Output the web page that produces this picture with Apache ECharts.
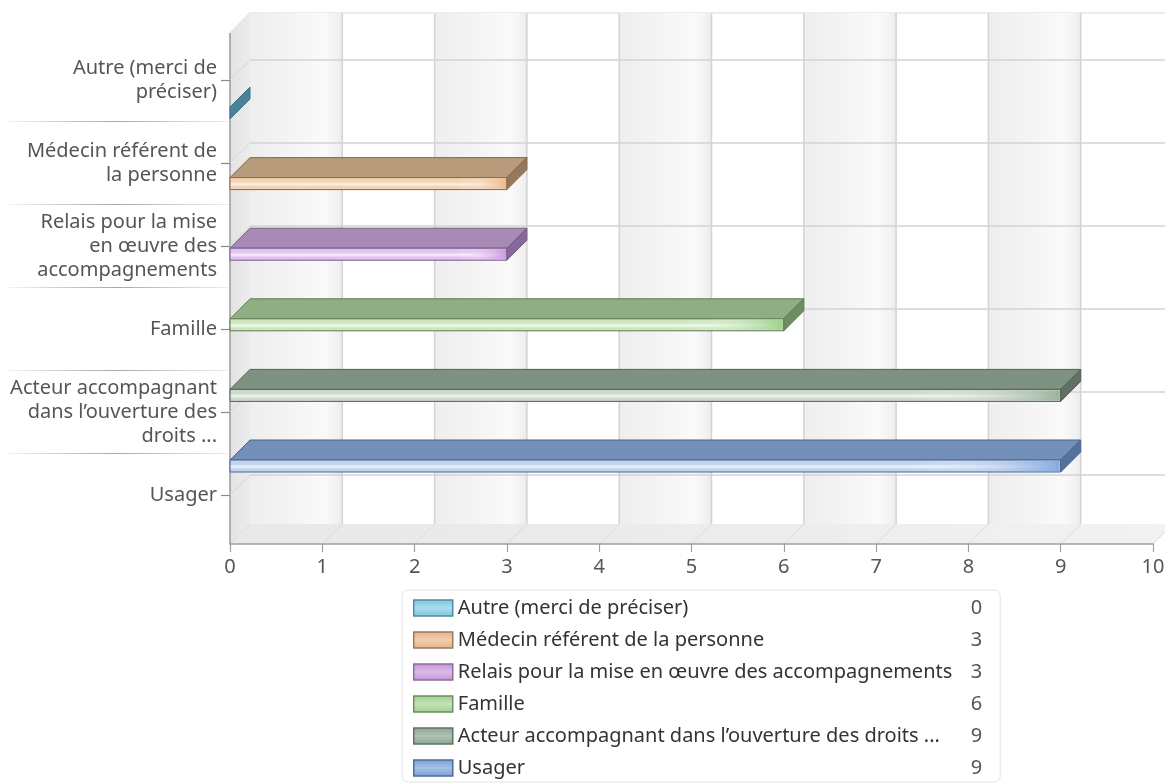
<!DOCTYPE html>
<html>
<head>
<meta charset="utf-8">
<script src="https://cdn.jsdelivr.net/npm/echarts@6/dist/echarts.min.js"></script>
<style>html,body{margin:0;padding:0;background:#fff}#c{width:1165px;height:784px}</style>
</head>
<body>
<div id="c"></div>
<script>
// ---- data ----
const categories = [
  'Autre (merci de préciser)',
  'Médecin référent de la personne',
  'Relais pour la mise en œuvre des accompagnements',
  'Famille',
  'Acteur accompagnant dans l’ouverture des droits ...',
  'Usager'
];
const axisLabels = [
  'Autre (merci de\npréciser)',
  'Médecin référent de\nla personne',
  'Relais pour la mise\nen œuvre des\naccompagnements',
  'Famille',
  'Acteur accompagnant\ndans l’ouverture des\ndroits ...',
  'Usager'
];
const values = [0, 3, 3, 6, 9, 9];
const xTicks = [0, 1, 2, 3, 4, 5, 6, 7, 8, 9, 10];
const xMin = 0, xMax = 10, xStep = 1;

// ---- styles ----
const FONT = "'Noto Sans', sans-serif";
const D = 20; // 3D depth offset in px
const palette = [
  {top:'#5b97ad', side:'#4a8398', border:'#3f7286', f0:'#b3ddef', f1:'#e6f5fb', f2:'#7fc6e2', lg:'#7fc3dd', lm:'#a9dcee', lb:'#4d8da3'},
  {top:'#b89b7b', side:'#95795b', border:'#86694c', f0:'#f3d2b0', f1:'#fcf0e4', f2:'#ebb98a', lg:'#e2b085', lm:'#f1cfae', lb:'#9b7c5e'},
  {top:'#a78bb6', side:'#86699a', border:'#765c86', f0:'#e0c2ef', f1:'#f7eefc', f2:'#cc98e2', lg:'#c291d6', lm:'#dcbbea', lb:'#8d6e9c'},
  {top:'#8fae81', side:'#6e8d62', border:'#5e7b53', f0:'#cbe6bf', f1:'#f1f9ee', f2:'#a0d28e', lg:'#9ecd8f', lm:'#c3e3b8', lb:'#6c8f60'},
  {top:'#7f9181', side:'#5f7162', border:'#506253', f0:'#ccd9cd', f1:'#f1f5f1', f2:'#9cb29e', lg:'#8aa391', lm:'#afc2b3', lb:'#5f7463'},
  {top:'#7290b9', side:'#56719b', border:'#4b658d', f0:'#bed3f0', f1:'#eef4fc', f2:'#86abe0', lg:'#779dd4', lm:'#a4c0e8', lb:'#4e6b96'}
];
const lin = (x, y, x2, y2, stops) => new echarts.graphic.LinearGradient(x, y, x2, y2, stops.map(c => ({offset: c[0], color: c[1]})));

function wallRender(params, api) {
  const k = api.value(0);
  const cs = params.coordSys;
  const top = cs.y, bottom = cs.y + cs.height;
  const xl = api.coord([xMin, 0])[0], xr = api.coord([xMax, 0])[0];
  const x = api.coord([k, 0])[0];
  const ch = [];
  if (k === xMin) {
    ch.push({type:'polygon', shape:{points:[[xl,top],[xl+D,top-D],[xl+D,bottom-D],[xl,bottom]]},
      style:{fill: lin(0,0,1,0,[[0,'#e3e3e3'],[1,'#ececec']])}});
    ch.push({type:'polygon', shape:{points:[[xl,bottom],[xl+D,bottom-D],[xr+D,bottom-D],[xr,bottom]]},
      style:{fill: lin(0,0,1,0,[[0,'#e8e8e8'],[0.6,'#ededed'],[1,'#f2f2f2']])}});
    ch.push({type:'polyline', shape:{points:[[xl,top],[xl+D,top-D],[xr+D,top-D]]},
      style:{stroke:'#e6e6e6', lineWidth:1.5, fill:null}});
  }
  if (k < xMax && (k - xMin) % 2 === 0) {
    const xn = api.coord([k + xStep, 0])[0];
    ch.push({type:'rect', shape:{x:x+D, y:top-D, width:xn-x, height:bottom-top},
      style:{fill: lin(0,0,1,0,[[0,'#eeeeee'],[0.45,'#f4f4f4'],[0.8,'#fafafa'],[0.94,'#f2f2f2'],[1,'#ebebeb']])}});
  }
  if (k > xMin) {
    ch.push({type:'line', shape:{x1:x+D, y1:top-D, x2:x+D, y2:bottom-D}, style:{stroke:'#d3d3d3', lineWidth:1.5}});
  }
  ch.push({type:'line', shape:{x1:x, y1:bottom, x2:x+D, y2:bottom-D}, style:{stroke:'#dcdcdc', lineWidth:1}});
  if (k === xMax) {
    ch.push({type:'line', shape:{x1:xl, y1:top, x2:xl, y2:bottom}, style:{stroke:'#9a9a9a', lineWidth:1.5}});
  }
  return {type:'group', children: ch};
}

function catRender(params, api) {
  const i = api.value(1);
  const c = api.coord([xMin, i]);
  const xr = api.coord([xMax, i])[0];
  const band = api.size([0, 1])[1];
  const ch = [
    {type:'line', shape:{x1:c[0]+D, y1:c[1]-D, x2:xr+D, y2:c[1]-D}, style:{stroke:'#d3d3d3', lineWidth:1.5}},
    {type:'line', shape:{x1:c[0], y1:c[1], x2:c[0]+D, y2:c[1]-D}, style:{stroke:'#d6d6d6', lineWidth:1}}
  ];
  if (i < categories.length - 1) {
    const y = c[1] + band / 2;
    ch.push({type:'line', shape:{x1:8, y1:y, x2:c[0]-2, y2:y},
      style:{stroke: lin(0,0,1,0,[[0,'rgba(200,200,200,0.2)'],[0.3,'#c4c4c4'],[0.5,'#a8a8a8'],[0.75,'#cdcdcd'],[1,'rgba(215,215,215,0.5)']]), lineWidth:1.2}});
  }
  return {type:'group', children: ch};
}

function barRender(pal) {
  return function (params, api) {
    const v = api.value(0), i = api.value(1);
    const p0 = api.coord([xMin, i]), p1 = api.coord([v, i]);
    const x0 = p0[0], x1 = p1[0], yc = p0[1];
    const h = 12, yT = yc - h / 2, yB = yc + h / 2;
    const ch = [];
    if (x1 - x0 > 0.5) {
      ch.push({type:'polygon', shape:{points:[[x0,yT],[x0+D,yT-D],[x1+D,yT-D],[x1,yT]]},
        style:{fill:pal.top, stroke:pal.border, lineWidth:1}});
      ch.push({type:'rect', shape:{x:x0, y:yT, width:x1-x0, height:h},
        style:{fill: lin(0,0,0,1,[[0,pal.f0],[0.35,pal.f0],[0.55,pal.f1],[0.75,pal.f0],[1,pal.f0]]), stroke:pal.border, lineWidth:1}});
      ch.push({type:'rect', shape:{x:x0+1, y:yT+1, width:x1-x0-2, height:h-2},
        style:{fill: lin(0,0,1,0,[[0,'rgba(255,255,255,0)'],[0.82,'rgba(255,255,255,0)'],[1,pal.f2]])}});
    }
    ch.push({type:'polygon', shape:{points:[[x1,yT],[x1+D,yT-D],[x1+D,yB-D],[x1,yB]]},
      style:{fill:pal.side, stroke:pal.border, lineWidth:1}});
    return {type:'group', children: ch};
  };
}

const chart = echarts.init(document.getElementById('c'), null, {renderer:'canvas'});
const gridBase = {left:230, right:12, outerBoundsMode:'none', containLabel:false};
const series = [
  {type:'custom', name:'_walls', xAxisIndex:0, yAxisIndex:0, z:0, clip:false, silent:true,
   renderItem: wallRender, data: xTicks.map(t => [t, 0])},
  {type:'custom', name:'_cats', xAxisIndex:1, yAxisIndex:1, z:1, clip:false, silent:true,
   renderItem: catRender, data: categories.map((c, i) => [xMin, i])}
];
categories.forEach((name, i) => {
  series.push({type:'custom', name, xAxisIndex:2, yAxisIndex:2, z:2, clip:false,
    itemStyle:{color: palette[i].lg},
    renderItem: barRender(palette[i]), data: [[values[i], i]]});
});

chart.setOption({
  animation: false,
  backgroundColor: '#ffffff',
  grid: [
    Object.assign({top:33, bottom:240}, gridBase),
    Object.assign({top:38.5, bottom:247.5}, gridBase),
    Object.assign({top:77.7, bottom:282.7}, gridBase)
  ],
  xAxis: [
    {gridIndex:0, type:'value', min:xMin, max:xMax, interval:xStep,
     axisLine:{show:true, lineStyle:{color:'#9f9f9f', width:1.5}},
     axisTick:{show:true, length:8, lineStyle:{color:'#9f9f9f', width:1.2}},
     splitLine:{show:false},
     axisLabel:{margin:13, color:'#555', fontSize:20, fontFamily:FONT}},
    {gridIndex:1, type:'value', min:xMin, max:xMax, show:false},
    {gridIndex:2, type:'value', min:xMin, max:xMax, show:false}
  ],
  yAxis: [
    {gridIndex:0, type:'value', min:0, max:1, show:false},
    {gridIndex:1, type:'category', inverse:true, data: axisLabels,
     axisLine:{show:false},
     axisTick:{show:true, alignWithLabel:true, length:9, lineStyle:{color:'#8a8a8a', width:1.2}},
     splitLine:{show:false},
     axisLabel:{margin:13, color:'#555', fontSize:20, lineHeight:24, fontFamily:FONT, align:'right'}},
    {gridIndex:2, type:'category', inverse:true, data: categories, show:false}
  ],
  legend: {
    orient:'vertical', left:402, top:590, padding:[8, 18, 4, 11],
    itemWidth:39, itemHeight:16, itemGap:12, icon:'rect',
    borderColor:'#e4e4e4', borderWidth:1, borderRadius:6,
    selectedMode:false,
    data: categories.map((name, i) => ({name, icon:'rect',
      itemStyle:{color: lin(0,0,0,1,[[0,palette[i].lg],[0.5,palette[i].lm],[1,palette[i].lg]]), borderColor:palette[i].lb, borderWidth:1.5}})),
    formatter: name => '{n|' + name + '}{v|' + values[categories.indexOf(name)] + '}',
    textStyle:{fontFamily:FONT, fontSize:20, color:'#333',
      rich:{n:{width:513, fontSize:20, lineHeight:20, color:'#333', fontFamily:FONT},
            v:{fontSize:20, lineHeight:20, color:'#555', fontFamily:FONT}}}
  },
  series
});
</script>
</body>
</html>
